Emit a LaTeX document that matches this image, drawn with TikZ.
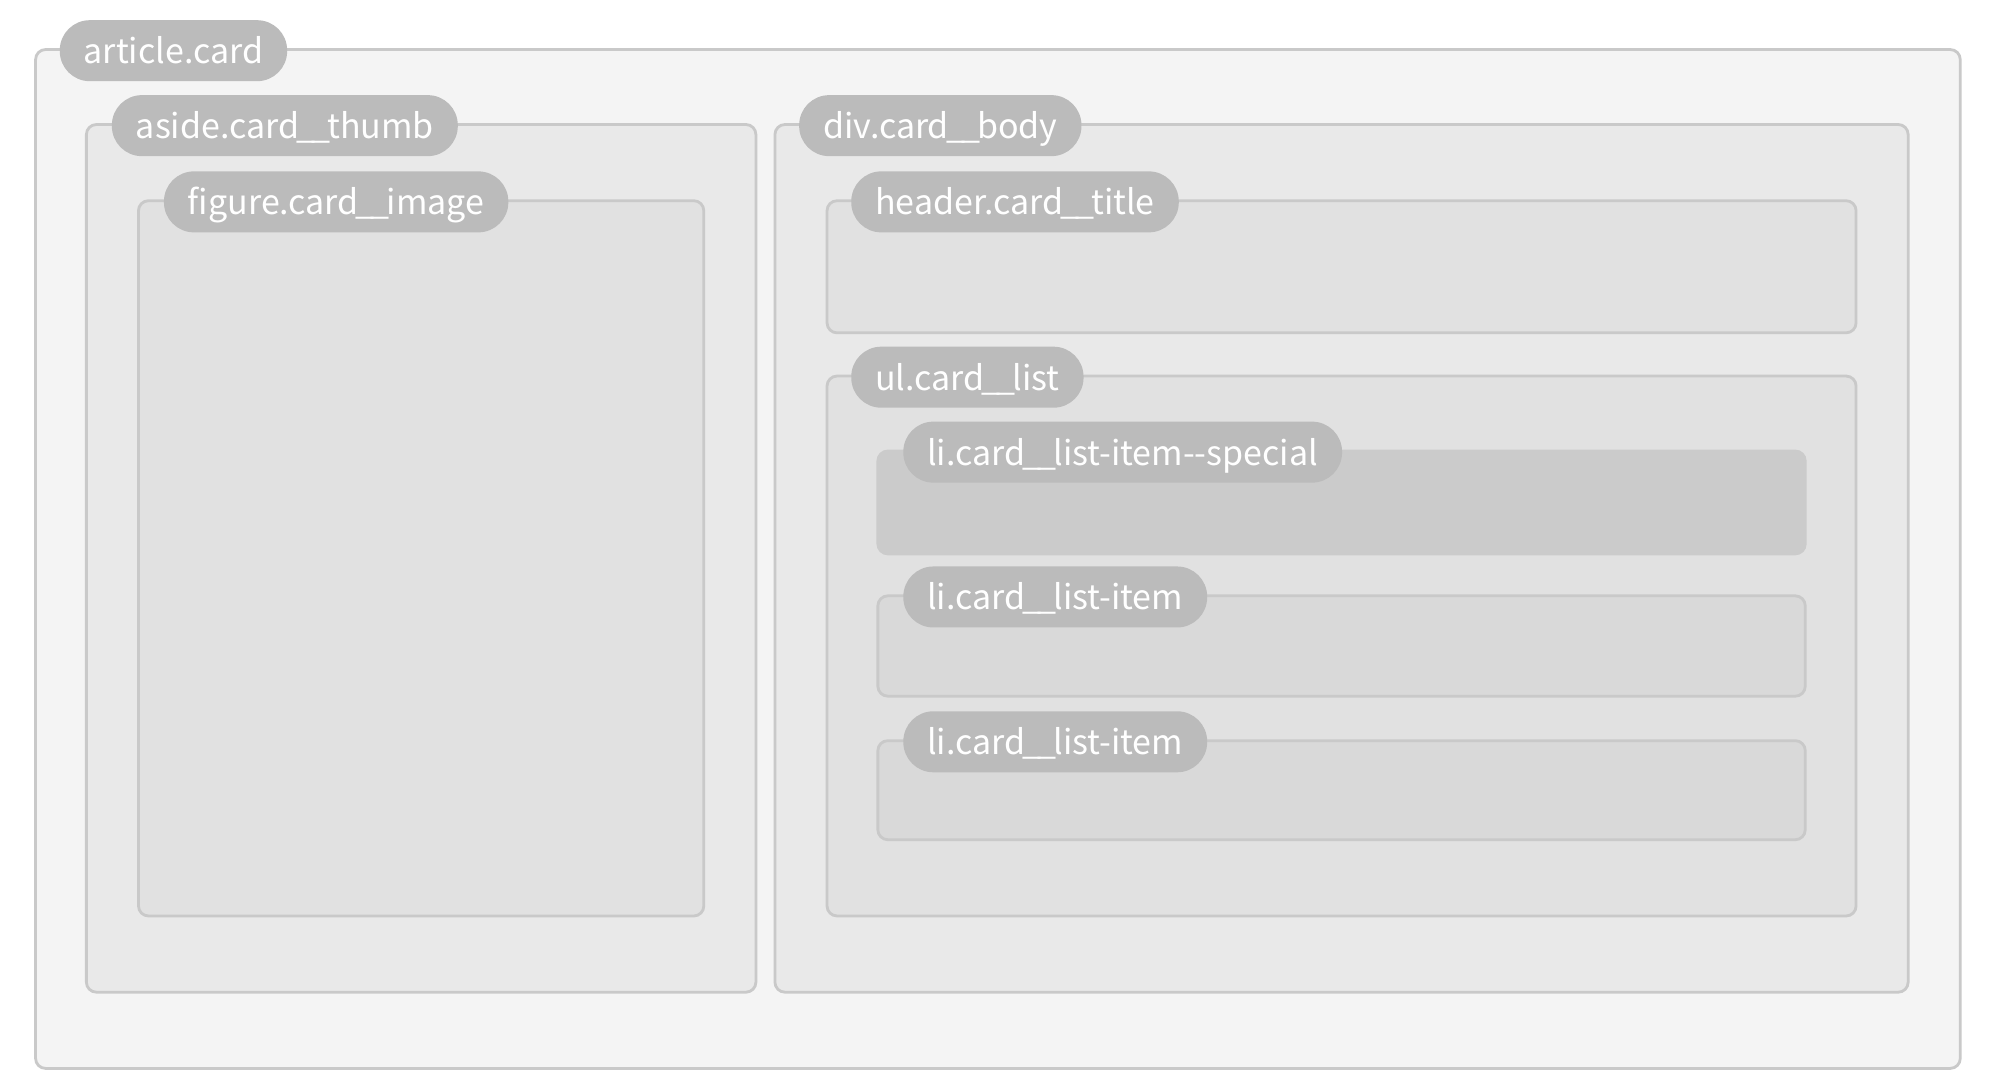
\documentclass[tikz,border=0pt]{standalone}
\usepackage{fontspec}
\setmainfont{Noto Sans CJK KR}
\usetikzlibrary{fit,calc}

\definecolor{boxline}{HTML}{C9C9C9}
\definecolor{tagfill}{HTML}{BBBBBB}
\definecolor{lvlone}{HTML}{F4F4F4}
\definecolor{lvltwo}{HTML}{E9E9E9}
\definecolor{lvlthree}{HTML}{E1E1E1}
\definecolor{lvlfour}{HTML}{D9D9D9}
\definecolor{lvlspecial}{HTML}{CBCBCB}

% tighter double underscore, as in the class names
\newcommand\dunder{\kern-3pt\_\kern-4pt\_\kern-3pt}

\tikzset{box/.style={draw=boxline, line width=2.8pt, rounded corners=10pt, inner sep=0pt},
         tag/.style={fill=tagfill, text=white, rounded corners=30pt, minimum height=61pt,
                     inner xsep=24pt, inner ysep=0pt, text height=26pt, text depth=0pt,
                     anchor=west, font=\fontsize{34}{40}\selectfont}}

\begin{document}
\begin{tikzpicture}[x=1.2704pt, y=-1.2704pt]
        \useasboundingbox[fill=white] (0,0) rectangle (1568,856);

        \node[box, fill=lvlone,   fit={(28,39) (1543,841)}]   (card)   {};
        \node[box, fill=lvltwo,   fit={(68,98) (595,781)}]    (thumb)  {};
        \node[box, fill=lvlthree, fit={(109,158) (554,721)}]  (image)  {};
        \node[box, fill=lvltwo,   fit={(610,98) (1502,781)}]  (body)   {};
        \node[box, fill=lvlthree, fit={(651,158) (1461,262)}] (title)  {};
        \node[box, fill=lvlthree, fit={(651,296) (1461,721)}] (list)   {};
        \node[box, fill=lvlspecial, draw=lvlspecial,
                                  fit={(691,355) (1421,436)}] (special) {};
        \node[box, fill=lvlfour,  fit={(691,469) (1421,548)}] (itemone) {};
        \node[box, fill=lvlfour,  fit={(691,583) (1421,661)}] (itemtwo) {};

        \node[tag] at ($(card.north west)+(20,2)$)    (cardtag)    {article.card};
        \node[tag] at ($(thumb.north west)+(21,2)$)   (thumbtag)   {aside.card\dunder thumb};
        \node[tag] at ($(image.north west)+(21,2)$)   (imagetag)   {figure.card\dunder image};
        \node[tag] at ($(body.north west)+(20,2)$)    (bodytag)    {div.card\dunder body};
        \node[tag] at ($(title.north west)+(20,2)$)   (titletag)   {header.card\dunder title};
        \node[tag] at ($(list.north west)+(20,2)$)    (listtag)    {ul.card\dunder list};
        \node[tag] at ($(special.north west)+(21,2)$) (specialtag) {li.card\dunder list-item-{}-special};
        \node[tag] at ($(itemone.north west)+(21,2)$) (itemonetag) {li.card\dunder list-item};
        \node[tag] at ($(itemtwo.north west)+(21,2)$) (itemtwotag) {li.card\dunder list-item};
\end{tikzpicture}
\end{document}
